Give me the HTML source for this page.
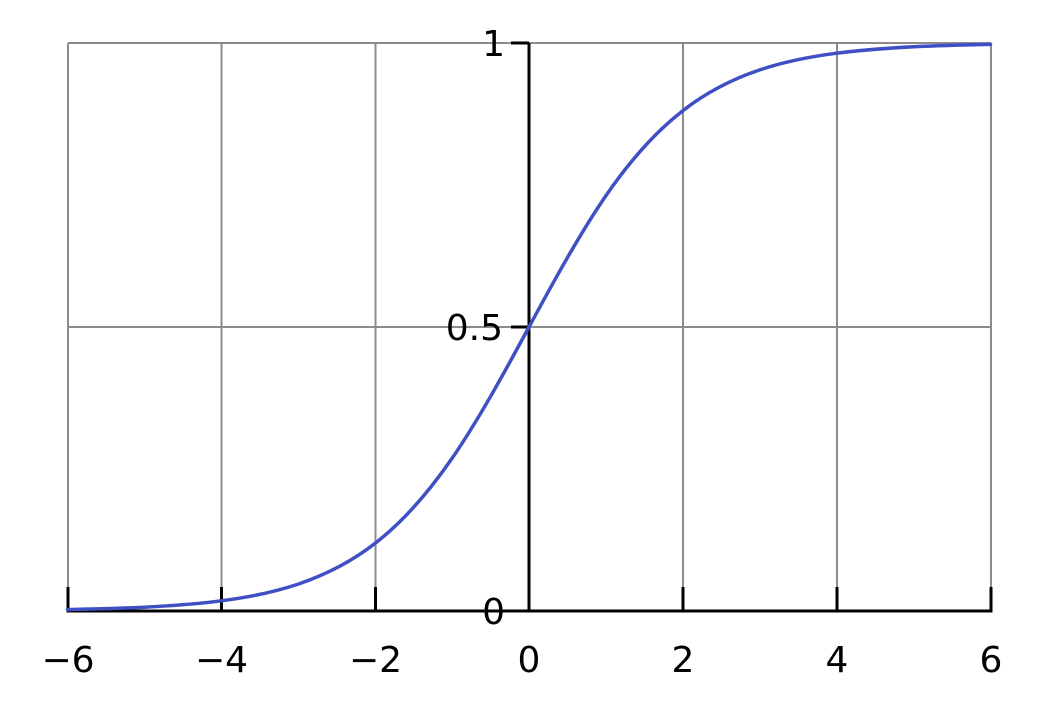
<!DOCTYPE html>
<html><head><meta charset="utf-8"><style>html,body{margin:0;padding:0;background:#fff}svg{display:block}</style></head>
<body>
<svg width="1059" height="706" viewBox="0 0 1059 706" xmlns="http://www.w3.org/2000/svg">
<g stroke="#8c8c8c" stroke-width="2" fill="none">
<line x1="68" y1="43" x2="991" y2="43"/>
<line x1="68" y1="327" x2="991" y2="327"/>
<line x1="68" y1="43" x2="68" y2="611"/>
<line x1="221.5" y1="43" x2="221.5" y2="611"/>
<line x1="375.5" y1="43" x2="375.5" y2="611"/>
<line x1="683" y1="43" x2="683" y2="611"/>
<line x1="837" y1="43" x2="837" y2="611"/>
<line x1="991" y1="43" x2="991" y2="611"/>
</g>
<g stroke="#000" stroke-width="3" fill="none">
<line x1="66.5" y1="611" x2="992.5" y2="611"/>
<line x1="529" y1="43" x2="529" y2="612.5"/>
<line x1="68" y1="587" x2="68" y2="611"/>
<line x1="221.5" y1="587" x2="221.5" y2="611"/>
<line x1="375.5" y1="587" x2="375.5" y2="611"/>
<line x1="683" y1="587" x2="683" y2="611"/>
<line x1="837" y1="587" x2="837" y2="611"/>
<line x1="991" y1="587" x2="991" y2="611"/>
<line x1="511" y1="43" x2="529" y2="43"/>
<line x1="511" y1="327" x2="529" y2="327"/>
<line x1="511" y1="611" x2="529" y2="611"/>
</g>
<path fill="none" stroke="#3f4fc4" stroke-width="3.5" stroke-linecap="round"
d="M67.5,609.6 C93.1,609.1 118.8,608.5 144.4,607.2 C170,605.9 195.7,604.1 221.3,600.8 C246.9,597.5 272.6,592.7 298.2,584.1 C323.8,575.5 349.6,563.2 375.2,543.3 C400.8,523.4 426.5,495.5 452.1,458.3 C477.7,421.1 503.4,374.3 529,327 C554.6,279.7 580.3,232.9 605.9,195.7 C631.5,158.5 657.2,130.6 682.8,110.7 C708.4,90.8 734.2,78.5 759.8,69.9 C785.4,61.3 811.1,56.5 836.7,53.2 C862.3,49.9 888,48.1 913.6,46.8 C939.2,45.5 964.9,44.9 990.5,44.4"/>
<g font-family="DejaVu Sans, Liberation Sans, sans-serif" font-size="36" fill="#000" text-anchor="middle">
<text x="68" y="672">−6</text>
<text x="221.5" y="672">−4</text>
<text x="375.5" y="672">−2</text>
<text x="529" y="672">0</text>
<text x="683" y="672">2</text>
<text x="837" y="672">4</text>
<text x="991" y="672">6</text>
</g>
<g font-family="DejaVu Sans, Liberation Sans, sans-serif" font-size="36" fill="#000" text-anchor="end">
<text x="505" y="56">1</text>
<text x="503" y="340">0.5</text>
<text x="505" y="624">0</text>
</g>
</svg>
</body></html>
